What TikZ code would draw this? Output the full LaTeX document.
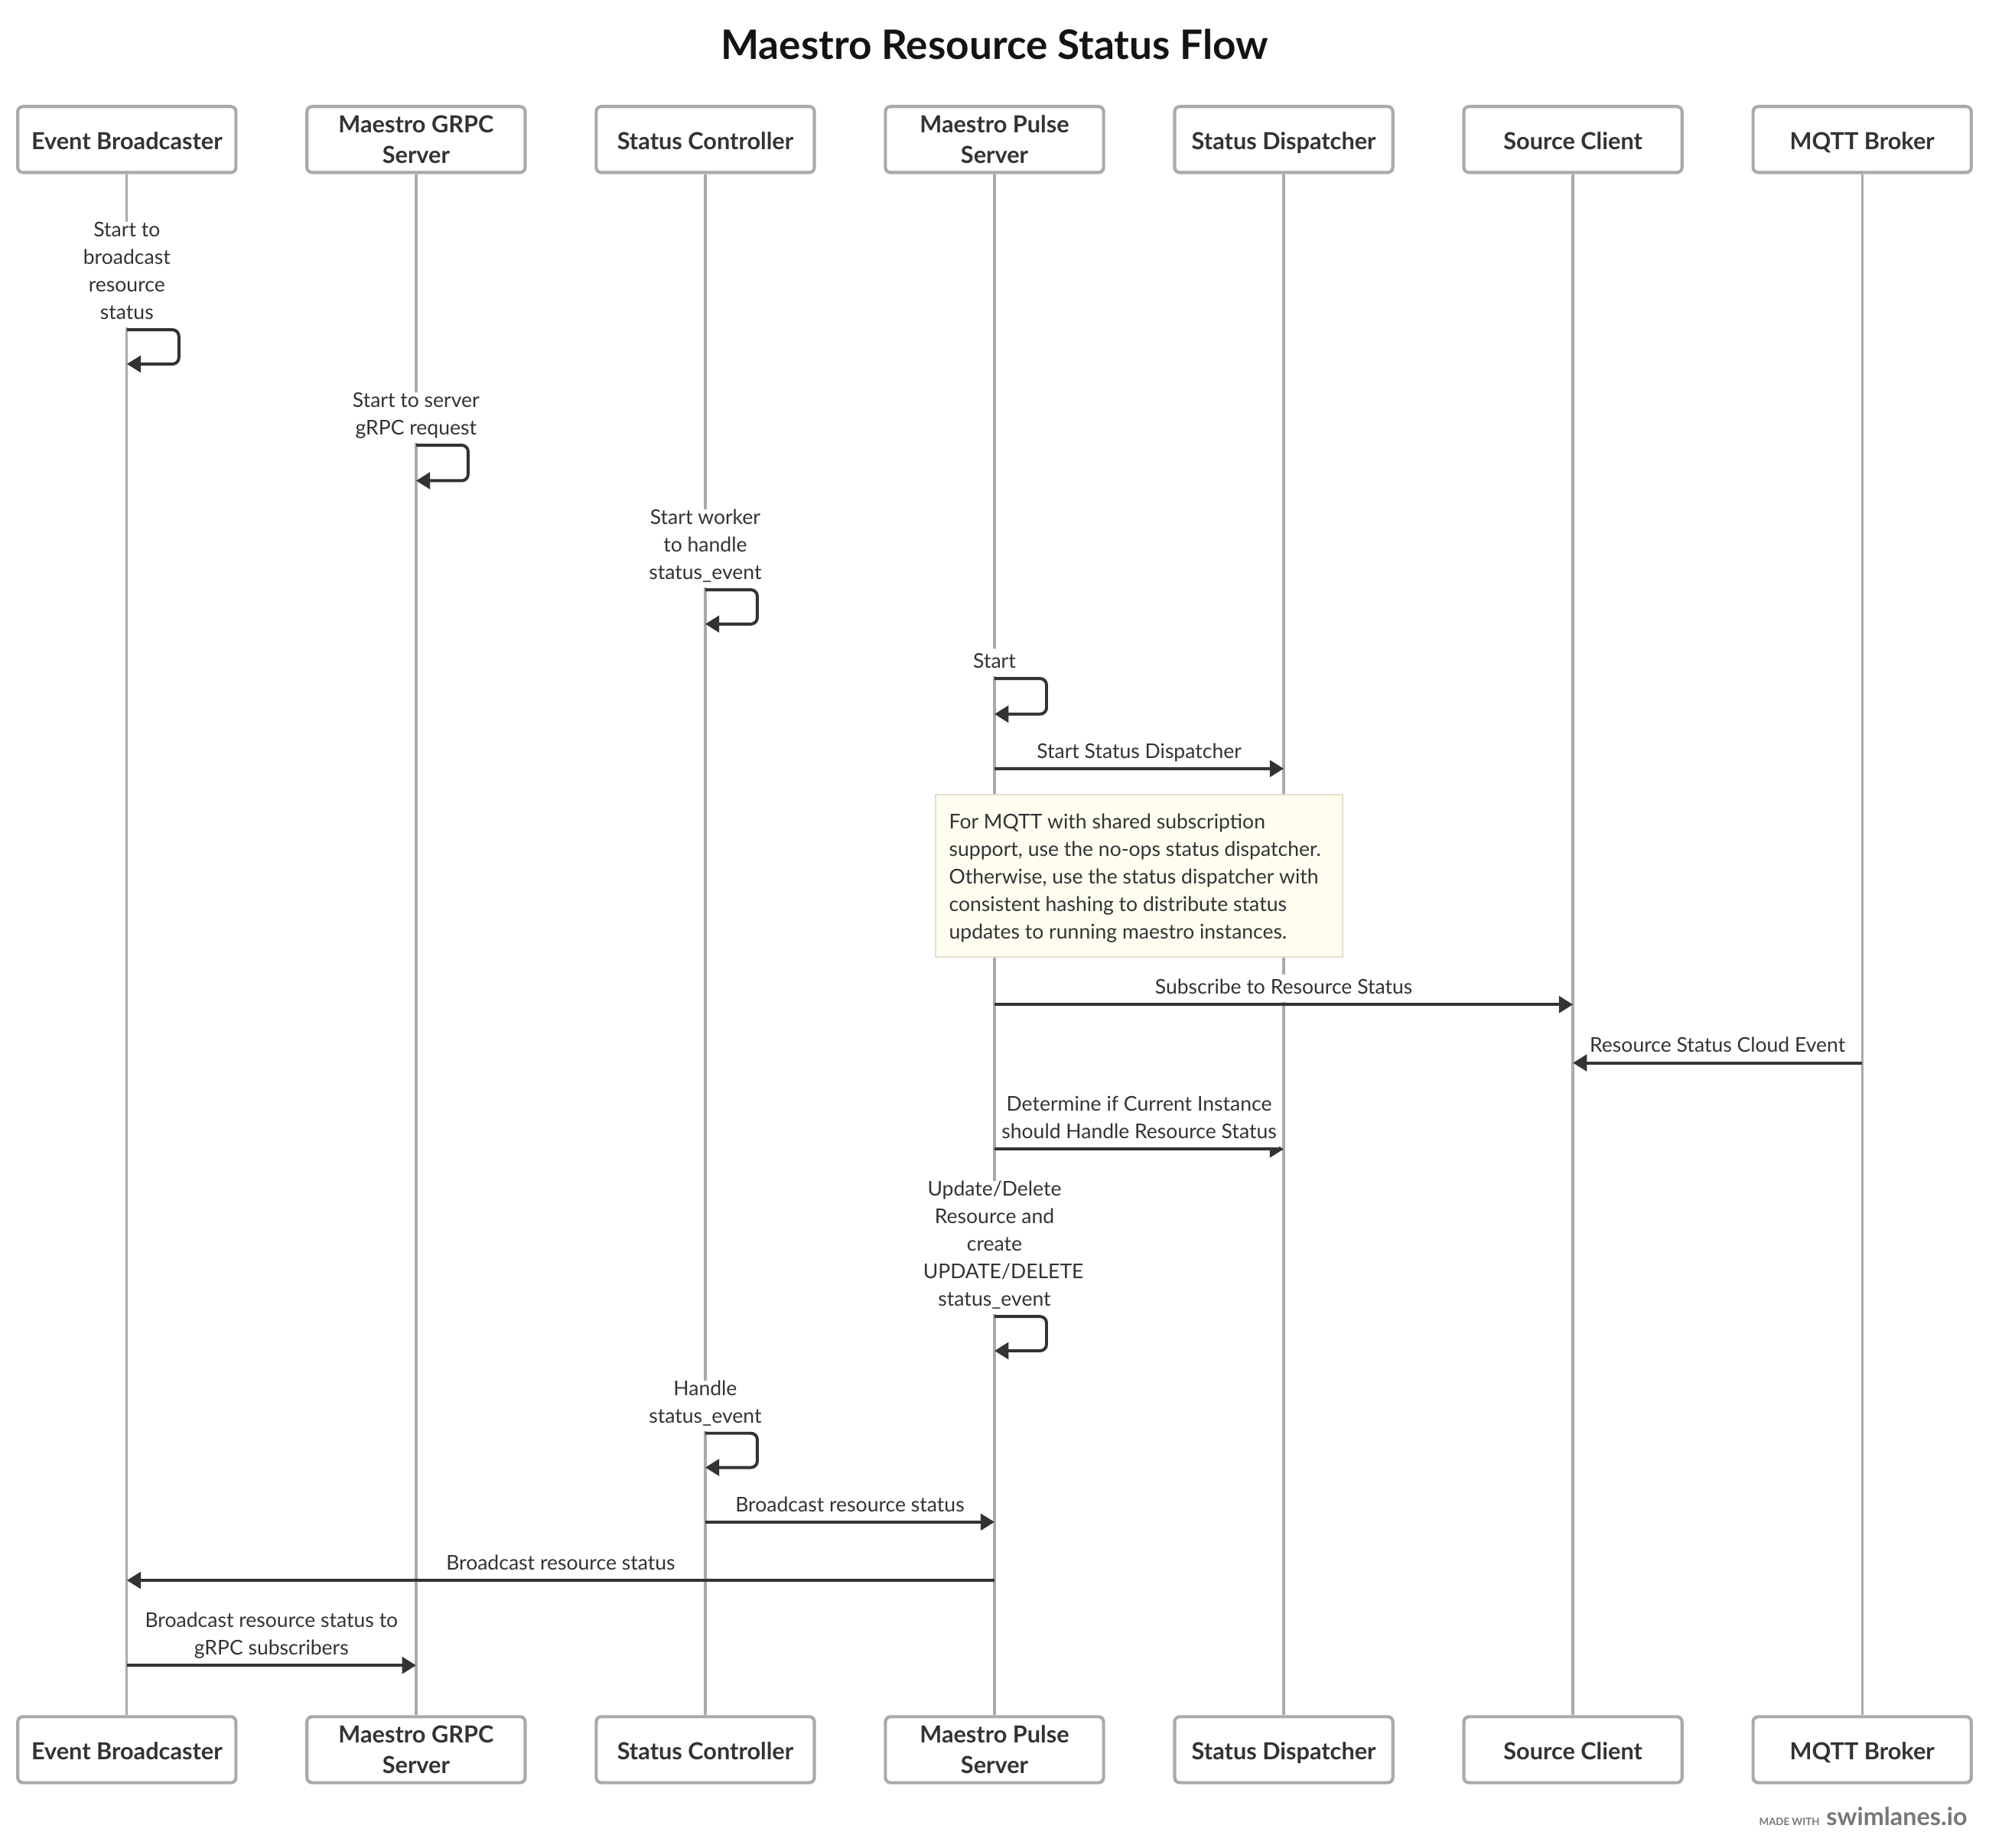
\documentclass[tikz,border=0pt]{standalone}
\usepackage{fontspec}
\setmainfont{Lato}
\usetikzlibrary{arrows.meta}
\definecolor{ink}{HTML}{333333}
\definecolor{lane}{HTML}{AAAAAA}
\definecolor{notefill}{HTML}{FEFDF0}
\definecolor{noteline}{HTML}{E4E1CC}
\definecolor{wmgray}{HTML}{777777}
\begin{document}
\begin{tikzpicture}[x=1pt,y=-1pt,
  actor/.style={draw=lane, line width=2.5pt, rounded corners=4pt, fill=white,
    minimum width=172pt, minimum height=52pt, align=center, inner sep=0pt,
    font=\fontsize{18.5}{24}\selectfont\bfseries, text=ink,
    execute at begin node={\rule{0pt}{22.8pt}}, execute at end node=\strut},
  lifeline/.style={draw=lane, line width=2pt},
  msg/.style={draw=ink, line width=2.4pt, -{Triangle[length=11pt,width=13pt]}},
  selfmsg/.style={msg, rounded corners=5pt},
  lbl/.style={font=\fontsize{16}{21.7}\selectfont, text=ink, align=center,
    fill=white, inner xsep=2pt, inner ysep=0pt, anchor=south, yshift=-1.5pt,
    execute at end node=\strut},
  notebox/.style={draw=noteline, fill=notefill, line width=1pt,
    minimum width=321pt, minimum height=128pt, anchor=north west, inner sep=0pt},
  notetxt/.style={font=\fontsize{16}{21.7}\selectfont, text=ink, align=left,
    inner sep=0pt, anchor=north west, execute at begin node=\strut},
]
\useasboundingbox (0,0) rectangle (1568,1457);

% title
\node[font=\fontsize{32}{38}\selectfont\bfseries, text=black!92] (title) at (784,35) {Maestro Resource Status Flow};

% participants
\node[actor] (t1) at (100,110) {Event Broadcaster};
\node[actor] (t2) at (328,110) {\rule{0pt}{20.5pt}Maestro GRPC\\Server};
\node[actor] (t3) at (556,110) {Status Controller};
\node[actor] (t4) at (784,110) {\rule{0pt}{20.5pt}Maestro Pulse\\Server};
\node[actor] (t5) at (1012,110) {Status Dispatcher};
\node[actor] (t6) at (1240,110) {Source Client};
\node[actor] (t7) at (1468,110) {MQTT Broker};

\node[actor] (b1) at (100,1379.5) {Event Broadcaster};
\node[actor] (b2) at (328,1379.5) {\rule{0pt}{20.5pt}Maestro GRPC\\Server};
\node[actor] (b3) at (556,1379.5) {Status Controller};
\node[actor] (b4) at (784,1379.5) {\rule{0pt}{20.5pt}Maestro Pulse\\Server};
\node[actor] (b5) at (1012,1379.5) {Status Dispatcher};
\node[actor] (b6) at (1240,1379.5) {Source Client};
\node[actor] (b7) at (1468,1379.5) {MQTT Broker};

\foreach \i in {1,...,7} \draw[lifeline] (t\i.south) -- (b\i.north);

% 1 self: Event Broadcaster
\coordinate (s1a) at (100,260); \coordinate (s1b) at (100,287);
\draw[selfmsg] (s1a) -- ++(41,0) -- ++(0,27) -- (s1b);
\node[lbl] (l1) at (100,257) {Start to\\broadcast\\resource\\status};

% 2 self: GRPC
\coordinate (s2a) at (328,351); \coordinate (s2b) at (328,379);
\draw[selfmsg] (s2a) -- ++(41,0) -- ++(0,28) -- (s2b);
\node[lbl] (l2) at (328,348) {Start to server\\gRPC request};

% 3 self: Status Controller
\coordinate (s3a) at (556,465); \coordinate (s3b) at (556,492);
\draw[selfmsg] (s3a) -- ++(41,0) -- ++(0,27) -- (s3b);
\node[lbl] (l3) at (556,462) {Start worker\\to handle\\status\_event};

% 4 self: Pulse Server
\coordinate (s4a) at (784,535); \coordinate (s4b) at (784,563);
\draw[selfmsg] (s4a) -- ++(41,0) -- ++(0,28) -- (s4b);
\node[lbl] (l4) at (784,532) {Start};

% 5 Pulse -> Dispatcher
\coordinate (m5a) at (784,606); \coordinate (m5b) at (1012,606);
\draw[msg] (m5a) -- (m5b);
\node[lbl] (l5) at (898,603) {Start Status Dispatcher};

% note
\node[notebox] (note) at (737,626) {};
\node[notetxt] (notet) at (748,641.3) {For MQTT with shared subscription\\support, use the no-ops status dispatcher.\\Otherwise, use the status dispatcher with\\consistent hashing to distribute status\\updates to running maestro instances.};

% 7 Pulse -> Source Client
\coordinate (m7a) at (784,792); \coordinate (m7b) at (1240,792);
\draw[msg] (m7a) -- (m7b);
\node[lbl] (l7) at (1012,789) {Subscribe to Resource Status};

% 8 MQTT -> Source Client
\coordinate (m8a) at (1468,838); \coordinate (m8b) at (1240,838);
\draw[msg] (m8a) -- (m8b);
\node[lbl] (l8) at (1354,835) {Resource Status Cloud Event};

% 9 Pulse -> Dispatcher
\coordinate (m9a) at (784,906); \coordinate (m9b) at (1012,906);
\draw[msg] (m9a) -- (m9b);
\node[lbl] (l9) at (898,903) {Determine if Current Instance\\should Handle Resource Status};

% 10 self: Pulse Server
\coordinate (s10a) at (784,1038); \coordinate (s10b) at (784,1065);
\draw[selfmsg] (s10a) -- ++(41,0) -- ++(0,27) -- (s10b);
\node[lbl] (l10) at (784,1035) {Update/Delete\\Resource and\\create\\\hspace*{14pt}UPDATE/DELETE\\status\_event};

% 11 self: Status Controller
\coordinate (s11a) at (556,1130); \coordinate (s11b) at (556,1157);
\draw[selfmsg] (s11a) -- ++(41,0) -- ++(0,27) -- (s11b);
\node[lbl] (l11) at (556,1127) {Handle\\status\_event};

% 12 Status Controller -> Pulse
\coordinate (m12a) at (556,1200); \coordinate (m12b) at (784,1200);
\draw[msg] (m12a) -- (m12b);
\node[lbl] (l12) at (670,1197) {Broadcast resource status};

% 13 Pulse -> Event Broadcaster
\coordinate (m13a) at (784,1246); \coordinate (m13b) at (100,1246);
\draw[msg] (m13a) -- (m13b);
\node[lbl] (l13) at (442,1243) {Broadcast resource status};

% 14 Event Broadcaster -> GRPC
\coordinate (m14a) at (100,1313); \coordinate (m14b) at (328,1313);
\draw[msg] (m14a) -- (m14b);
\node[lbl] (l14) at (214,1310) {Broadcast resource status to\\gRPC subscribers};

% watermark
\node[anchor=base east, inner sep=0pt, font=\fontsize{19.5}{21}\selectfont\bfseries, text=wmgray] (wm2) at (1551,1439) {swimlanes.io};
\node[anchor=base east, inner sep=0pt, font=\fontsize{8}{9}\selectfont\bfseries, text=wmgray] (wm1) at ([xshift=-5pt]wm2.base west) {MADE WITH};
\end{tikzpicture}
\end{document}
